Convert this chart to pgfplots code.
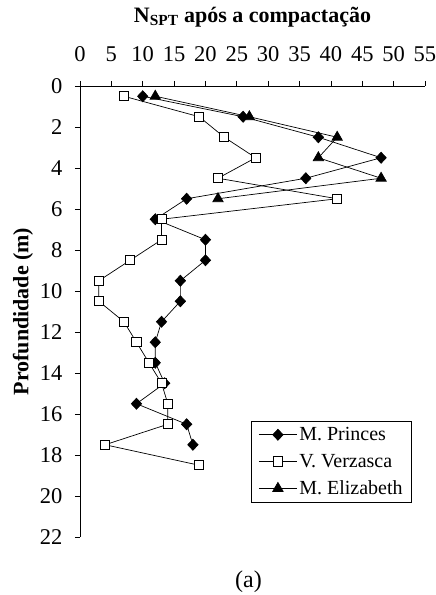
\documentclass[border=0pt]{standalone}
\usepackage{fontspec}
\setmainfont{Liberation Serif}
\usepackage{pgfplots}
\pgfplotsset{compat=1.18}

\begin{document}
\begin{tikzpicture}
\begin{axis}[
    name=ax,
    scale only axis,
    width=345pt, height=451pt,
    xmin=0, xmax=55, ymin=0, ymax=22,
    y dir=reverse,
    axis x line=top, axis y line=left,
    axis line style={-, line width=0.8pt},
    xtick={0,5,...,55}, ytick={0,2,...,22},
    xticklabels={0,5,10,15,20,25,30,35,40,45,50,55},
    yticklabels={0,2,4,6,8,10,12,14,16,18,20,22},
    xtick pos=upper, ytick pos=left,
    xtick align=outside, ytick align=outside,
    major tick length=5pt,
    tick style={black, line width=0.8pt},
    every tick label/.append style={font=\fontsize{22.5}{24}\selectfont},
    xticklabel style={yshift=16pt},
    yticklabel style={xshift=-9pt},
    xlabel={\textbf{N\textsubscript{SPT} após a compactação}},
    xlabel style={font=\fontsize{22}{24}\selectfont, yshift=12pt},
    ylabel={\textbf{Profundidade (m)}},
    ylabel style={font=\fontsize{22}{24}\selectfont, yshift=0pt},
    legend style={at={(axis description cs:0.962,0.257)}, anchor=north east,
        font=\fontsize{20}{23}\selectfont, draw=black, line width=0.6pt,
        inner xsep=7pt, inner ysep=4pt, row sep=8pt},
    legend cell align=left,
    legend image code/.code={
        \draw[mark repeat=2, mark phase=2] plot coordinates {(0pt,0pt) (19pt,0pt) (38pt,0pt)};
    },
    every axis plot/.append style={black, line width=0.7pt},
    clip=false,
]
\addplot[mark=diamond*, mark size=5.5pt, mark options={xscale=1.25, fill=black}]
coordinates {
(10,0.5) (26,1.5) (38,2.5) (48,3.5) (36,4.5) (17,5.5) (12,6.5) (20,7.5)
(20,8.5) (16,9.5) (16,10.5) (13,11.5) (12,12.5) (12,13.5) (13.5,14.5)
(9,15.5) (17,16.5) (18,17.5)
};
\addplot[mark=square*, mark size=4.6pt, mark options={fill=white, line width=0.8pt}]
coordinates {
(7,0.5) (19,1.5) (23,2.5) (28,3.5) (22,4.5) (41,5.5) (13,6.5) (13,7.5)
(8,8.5) (3,9.5) (3,10.5) (7,11.5) (9,12.5) (11,13.5) (13,14.5)
(14,15.5) (14,16.5) (4,17.5) (19,18.5)
};
\addplot[mark=triangle*, mark size=6pt, mark options={fill=black}]
coordinates {
(12,0.5) (27,1.5) (41,2.5) (38,3.5) (48,4.5) (22,5.5)
};
\legend{M. Princes, V. Verzasca, M. Elizabeth}
\end{axis}
\node[font=\fontsize{24}{26}\selectfont] at ([xshift=-4pt,yshift=-45pt]ax.south) {(a)};
\pgfresetboundingbox
\useasboundingbox ([xshift=-80pt,yshift=86pt]ax.north west) rectangle ([xshift=10pt,yshift=-58pt]ax.south east);
\end{tikzpicture}
\end{document}
